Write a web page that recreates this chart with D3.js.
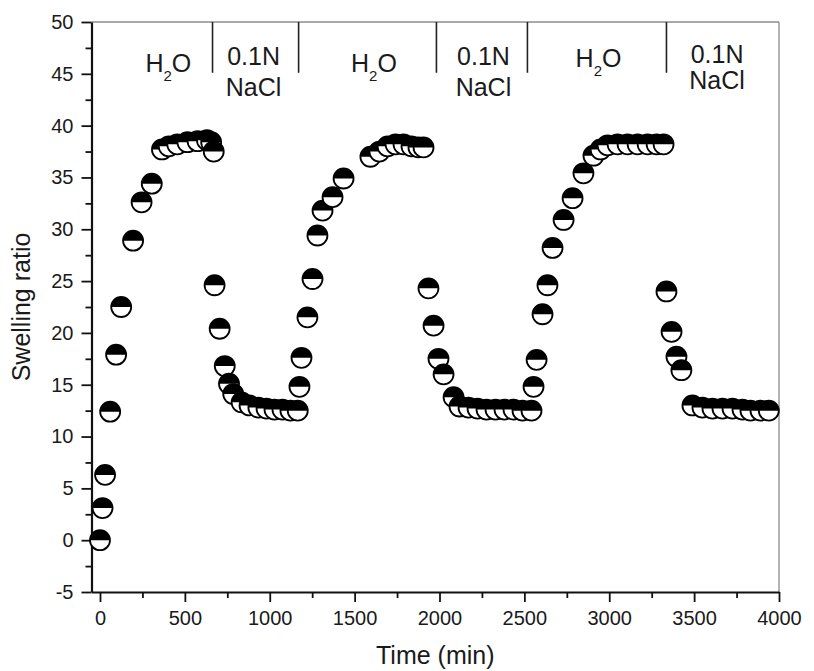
<!DOCTYPE html>
<html>
<head>
<meta charset="utf-8">
<script src="https://cdn.jsdelivr.net/npm/d3@7"></script>
<style>
body { margin: 0; background: #fff; }
svg text { font-family: Arial, "Liberation Sans", sans-serif; fill: #1a1a1a; }
</style>
</head>
<body>
<svg id="chart" width="814" height="671"></svg>
<script>
// time (min) and swelling ratio, one block per medium
var water1Time  = [0, 15, 30, 60, 95, 125, 195, 245, 305, 365, 405, 455, 515, 575, 630, 655, 670];
var water1Ratio = [0, 3.1, 6.3, 12.4, 17.9, 22.5, 28.9, 32.6, 34.4, 37.7, 38.0, 38.2, 38.4, 38.5, 38.6, 38.4, 37.5];
var salt1Time   = [675, 705, 735, 760, 785, 834, 881, 933, 981, 1028, 1075, 1122, 1165];
var salt1Ratio  = [24.6, 20.4, 16.8, 15.1, 14.1, 13.3, 13.0, 12.8, 12.7, 12.6, 12.6, 12.5, 12.5];
var water2Time  = [1175, 1187, 1222, 1252, 1281, 1311, 1370, 1435, 1593, 1646, 1694, 1741, 1788, 1835, 1876, 1906];
var water2Ratio = [14.8, 17.6, 21.5, 25.2, 29.4, 31.8, 33.1, 34.9, 37.0, 37.5, 38.0, 38.2, 38.2, 38.0, 37.9, 37.9];
var salt2Time   = [1935, 1965, 1994, 2024, 2083, 2118, 2171, 2224, 2277, 2330, 2383, 2436, 2489, 2542];
var salt2Ratio  = [24.3, 20.7, 17.5, 16.0, 13.8, 12.9, 12.8, 12.7, 12.6, 12.6, 12.6, 12.6, 12.5, 12.5];
var water3Time  = [2554, 2572, 2607, 2636, 2666, 2731, 2784, 2848, 2907, 2949, 2990, 3049, 3108, 3167, 3226, 3279, 3320];
var water3Ratio = [14.8, 17.4, 21.8, 24.6, 28.2, 30.9, 33.0, 35.4, 37.1, 37.7, 38.1, 38.2, 38.2, 38.2, 38.2, 38.2, 38.2];
var salt3Time   = [3337, 3367, 3396, 3425, 3490, 3549, 3608, 3667, 3726, 3785, 3832, 3891, 3940];
var salt3Ratio  = [24.0, 20.1, 17.7, 16.4, 13.0, 12.8, 12.7, 12.7, 12.7, 12.6, 12.5, 12.5, 12.5];

// medium changes and the labels of each phase
var switchTimes = [663, 1170, 1982, 2518, 3337];
var phaseNames  = ["H2O", "0.1N NaCl", "H2O", "0.1N NaCl", "H2O", "0.1N NaCl"];
var phaseCenter = [403, 905, 1614, 2259, 2937, 3635];

var xTicks = [0, 500, 1000, 1500, 2000, 2500, 3000, 3500, 4000];
var yTicks = [-5, 0, 5, 10, 15, 20, 25, 30, 35, 40, 45, 50];

var svg = d3.select("#chart");
var plotL = 91.5, plotR = 779, plotT = 22, plotB = 592;

var x = d3.scaleLinear().domain([-50, 4000]).range([plotL, plotR]);
var y = d3.scaleLinear().domain([-5, 50]).range([plotB, plotT]);

// frame (top and right are the light ones)
svg.append("line").attr("x1", plotL).attr("x2", plotR).attr("y1", plotT).attr("y2", plotT)
    .attr("stroke", "#8c8c8c").attr("stroke-width", 1.3);
svg.append("line").attr("x1", plotR).attr("x2", plotR).attr("y1", plotT).attr("y2", plotB)
    .attr("stroke", "#8c8c8c").attr("stroke-width", 1.3);

// minor ticks
svg.append("g").attr("transform", "translate(0," + plotB + ")")
    .call(d3.axisBottom(x).tickValues(d3.range(250, 4000, 500)).tickSize(6).tickSizeOuter(0).tickFormat(""))
    .call(function(g) { g.select(".domain").remove(); });
svg.append("g").attr("transform", "translate(" + plotL + ",0)")
    .call(d3.axisLeft(y).tickValues(d3.range(-2.5, 50, 5)).tickSize(6).tickSizeOuter(0).tickFormat(""))
    .call(function(g) { g.select(".domain").remove(); });

var xAxis = svg.append("g").attr("transform", "translate(0," + plotB + ")")
    .call(d3.axisBottom(x).tickValues(xTicks).tickSize(10).tickSizeOuter(0).tickPadding(9)
        .tickFormat(function(d) { return String(d); }));
var yAxis = svg.append("g").attr("transform", "translate(" + plotL + ",0)")
    .call(d3.axisLeft(y).tickValues(yTicks).tickSize(10).tickSizeOuter(0).tickPadding(8)
        .tickFormat(function(d) { return String(d); }));

svg.selectAll(".tick line").attr("stroke", "#111").attr("stroke-width", 1.8);
[xAxis, yAxis].forEach(function(a) {
    a.select(".domain").attr("stroke", "#111").attr("stroke-width", 2.2);
    a.selectAll("text").attr("font-size", 20).attr("fill", "#1a1a1a");
});

// axis titles
svg.append("text").attr("x", (plotL + plotR) / 2).attr("y", 664)
    .attr("text-anchor", "middle").attr("font-size", 25).text("Time (min)");
svg.append("text").attr("transform", "translate(30," + ((plotT + plotB) / 2) + ") rotate(-90)")
    .attr("text-anchor", "middle").attr("font-size", 25).text("Swelling ratio");

// separators between phases
svg.selectAll(".sep").data(switchTimes).enter().append("line")
    .attr("class", "sep")
    .attr("x1", function(d) { return x(d); }).attr("x2", function(d) { return x(d); })
    .attr("y1", y(50)).attr("y2", y(45.1))
    .attr("stroke", "#222").attr("stroke-width", 1.6);

// phase labels
phaseNames.forEach(function(name, i) {
    var lift = i >= 4 ? 5 : 0;
    var cx = x(phaseCenter[i]);
    if (name === "H2O") {
        var t = svg.append("text").attr("x", cx).attr("y", 72 - lift)
            .attr("text-anchor", "middle").attr("font-size", 25);
        t.append("tspan").text("H");
        t.append("tspan").attr("font-size", 15).attr("dy", 9).text("2");
        t.append("tspan").attr("dy", -9).text("O");
    } else {
        var parts = name.split(" ");
        svg.append("text").attr("x", cx).attr("y", 65 - (i >= 4 ? 2 : 0))
            .attr("text-anchor", "middle").attr("font-size", 25).text(parts[0]);
        svg.append("text").attr("x", cx).attr("y", 96 - (i >= 4 ? 7 : 0))
            .attr("text-anchor", "middle").attr("font-size", 25).text(parts[1]);
    }
});

// half filled circles
var points = [];
[[water1Time, water1Ratio], [salt1Time, salt1Ratio], [water2Time, water2Ratio],
 [salt2Time, salt2Ratio], [water3Time, water3Ratio], [salt3Time, salt3Ratio]].forEach(function(s) {
    s[0].forEach(function(t, i) { points.push({ t: t, r: s[1][i] }); });
});

var r = 10;
var pt = svg.append("g").selectAll("g").data(points).enter().append("g")
    .attr("transform", function(d) { return "translate(" + x(d.t) + "," + y(d.r) + ")"; });
pt.append("circle").attr("r", r).attr("fill", "#fff");
pt.append("path").attr("d", "M" + (-r) + ",0 A" + r + "," + r + " 0 0,1 " + r + ",0 Z").attr("fill", "#000");
pt.append("circle").attr("r", r).attr("fill", "none").attr("stroke", "#000").attr("stroke-width", 1.8);
</script>
</body>
</html>
